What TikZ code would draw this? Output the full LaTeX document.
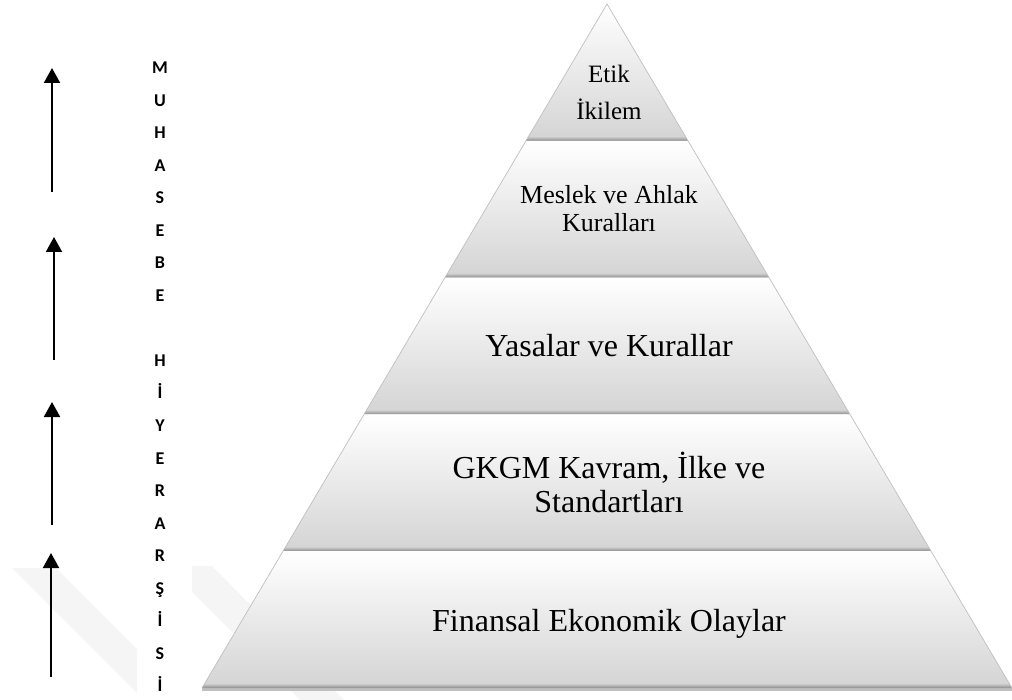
\documentclass[tikz,border=0pt]{standalone}
\usepackage{fontspec}
\setmainfont{Liberation Serif}
\newfontfamily\letterfont{Carlito}
\usetikzlibrary{calc,arrows.meta}
\begin{document}
\begin{tikzpicture}[x=1pt,y=-1pt,
  uparrow/.style={line width=2pt,-{Triangle[width=16pt,length=15pt]}},
  vletter/.style={anchor=base,inner sep=0pt,font={\letterfont\bfseries\fontsize{18}{20}\selectfont}},
  smalltxt/.style={anchor=base,inner sep=0pt,font={\fontsize{25}{30}\selectfont}},
  midtxt/.style={anchor=base,inner sep=0pt,font={\fontsize{26}{30}\selectfont}},
  bigtxt/.style={anchor=base,inner sep=0pt,font={\fontsize{32}{36}\selectfont}},
  watermark/.style={fill=black!4,draw=none}]
\useasboundingbox (0,0) rectangle (1012,700);
% faint watermark
\begin{scope}
  \clip (0,560) rectangle (137,700);
  \fill[watermark] (12,568) -- (56,568) -- (188,700) -- (144,700) -- cycle;
\end{scope}
\begin{scope}
  \clip (192,560) rectangle (1012,700);
  \fill[watermark] (192,566) -- (212,566) -- (344,700) -- (300,700) -- (192,592) -- cycle;
\end{scope}
% pyramid
\coordinate (A) at (607,4);
\coordinate (BL) at (202,688);
\coordinate (BR) at (1012,688);
\fill[black!25] (BL) -- (BR) -- ($(BR)+(0,3)$) -- ($(BL)+(0,3)$) -- cycle;
\foreach \t/\b/\bs in {0/0.2/0.194,0.2/0.4/0.394,0.4/0.6/0.594,0.6/0.8/0.794,0.8/1/0.994}{
  \shade[top color=white,middle color=black!4,bottom color=black!17]
    ($(A)!\t!(BL)$) -- ($(A)!\t!(BR)$) -- ($(A)!\b!(BR)$) -- ($(A)!\b!(BL)$) -- cycle;
  \shade[top color=black!20,bottom color=black!45]
    ($(A)!\bs!(BL)$) -- ($(A)!\bs!(BR)$) -- ($(A)!\b!(BR)$) -- ($(A)!\b!(BL)$) -- cycle;
}
\draw[black!25,line width=0.7pt] (BL) -- (A) -- (BR);
% layer texts
\node[smalltxt] (t1a) at (609,83) {Etik};
\node[smalltxt] (t1b) at (609,120) {İkilem};
\node[midtxt] (t2a) at (609,204) {Meslek ve Ahlak};
\node[midtxt] (t2b) at (609,232) {Kuralları};
\node[bigtxt] (t3) at (609,357) {Yasalar ve Kurallar};
\node[bigtxt] (t4a) at (609,478) {GKGM Kavram, İlke ve};
\node[bigtxt] (t4b) at (609,512) {Standartları};
\node[bigtxt] (t5) at (609,631) {Finansal Ekonomik Olaylar};
% vertical title
\foreach \ch/\k in {M/0,U/1,H/2,A/3,S/4,E/5,B/6,E/7,H/9,İ/10,Y/11,E/12,R/13,A/14,R/15,Ş/16,İ/17,S/18,İ/19}{
  \node[vletter] (v\k) at (160,{74+\k*32.5}) {\ch};
}
% arrows
\coordinate (a1s) at (52,192); \coordinate (a1e) at (52,68);
\coordinate (a2s) at (54,360); \coordinate (a2e) at (54,237);
\coordinate (a3s) at (52,525); \coordinate (a3e) at (52,402);
\coordinate (a4s) at (51,677); \coordinate (a4e) at (51,553);
\draw[uparrow] (a1s) -- (a1e);
\draw[uparrow] (a2s) -- (a2e);
\draw[uparrow] (a3s) -- (a3e);
\draw[uparrow] (a4s) -- (a4e);
\end{tikzpicture}
\end{document}
